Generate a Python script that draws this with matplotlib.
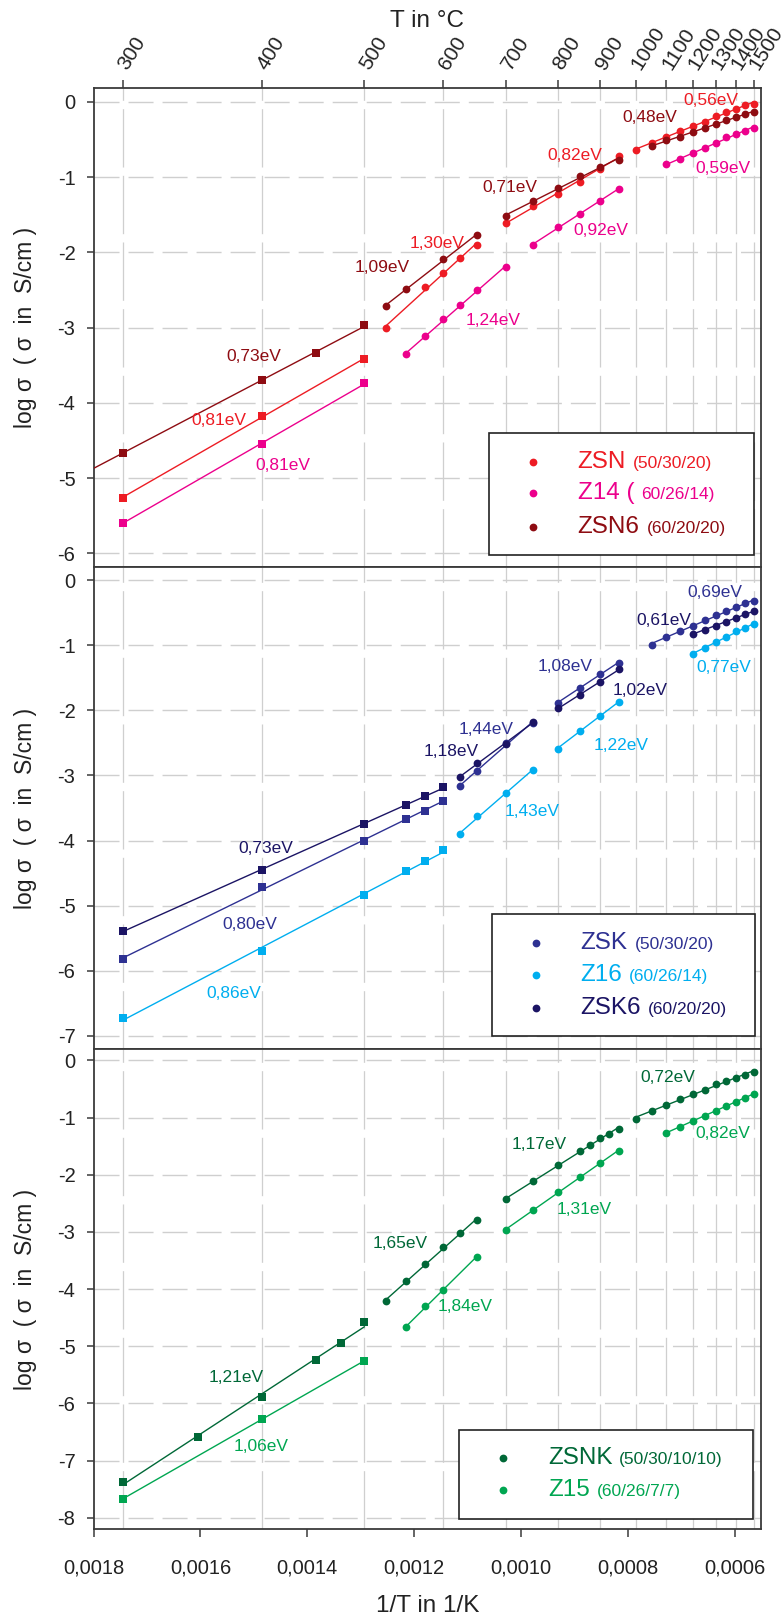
import numpy as np
import matplotlib
matplotlib.use("Agg")
import matplotlib.pyplot as plt
from matplotlib.patches import Rectangle

plt.rcParams['font.family'] = ['Liberation Sans', 'DejaVu Sans']
plt.rcParams['axes.unicode_minus'] = False
plt.rcParams['lines.scale_dashes'] = False

# colours of the glass series
c_zsn, c_z14, c_zsn6 = '#ed1c24', '#ec008c', '#8e0c12'
c_zsk, c_z16, c_zsk6 = '#2e3192', '#00aeef', '#1b1464'
c_zsnk, c_z15 = '#006837', '#00a651'

# ---- ZSN / Z14 / ZSN6 : temperature in deg C, log sigma ----
zsn_T_sq = [300, 400, 500]
zsn_sq = [-5.26, -4.17, -3.42]
zsn_T_a = [525, 575, 600, 625, 650]
zsn_a = [-3.00, -2.46, -2.27, -2.07, -1.90]
zsn_T_b = [700, 750, 800, 850, 900, 950]
zsn_b = [-1.61, -1.38, -1.22, -1.06, -0.89, -0.72]
zsn_T_c = [1000, 1050, 1100, 1150, 1200, 1250, 1300, 1350, 1400, 1450, 1500]
zsn_c = [-0.64, -0.55, -0.46, -0.38, -0.32, -0.26, -0.19, -0.13, -0.09, -0.04, -0.03]

z14_T_sq = [300, 400, 500]
z14_sq = [-5.59, -4.55, -3.74]
z14_T_a = [550, 575, 600, 625, 650, 700]
z14_a = [-3.35, -3.11, -2.89, -2.70, -2.50, -2.19]
z14_T_b = [750, 800, 850, 900, 950]
z14_b = [-1.90, -1.66, -1.49, -1.31, -1.16]
z14_T_c = [1100, 1150, 1200, 1250, 1300, 1350, 1400, 1450, 1500]
z14_c = [-0.83, -0.76, -0.68, -0.61, -0.55, -0.47, -0.42, -0.38, -0.34]

zsn6_T_sq = [300, 400, 450, 500]
zsn6_sq = [-4.66, -3.70, -3.33, -2.97]
zsn6_T_a = [525, 550, 600, 650]
zsn6_a = [-2.71, -2.48, -2.09, -1.77]
zsn6_T_b = [700, 750, 800, 850, 900, 950]
zsn6_b = [-1.52, -1.31, -1.14, -0.99, -0.87, -0.77]
zsn6_T_c = [1050, 1100, 1150, 1200, 1250, 1300, 1350, 1400, 1450, 1500]
zsn6_c = [-0.59, -0.51, -0.46, -0.40, -0.35, -0.29, -0.24, -0.20, -0.16, -0.13]

# ---- ZSK / Z16 / ZSK6 ----
zsk_T_sq = [300, 400, 500, 550, 575, 600]
zsk_sq = [-5.82, -4.72, -4.00, -3.67, -3.54, -3.39]
zsk_T_a = [625, 650, 700, 750]
zsk_a = [-3.16, -2.93, -2.50, -2.19]
zsk_T_b = [800, 850, 900, 950]
zsk_b = [-1.89, -1.65, -1.45, -1.27]
zsk_T_c = [1050, 1100, 1150, 1200, 1250, 1300, 1350, 1400, 1450, 1500]
zsk_c = [-0.99, -0.88, -0.78, -0.70, -0.62, -0.54, -0.48, -0.42, -0.36, -0.32]

z16_T_sq = [300, 400, 500, 550, 575, 600]
z16_sq = [-6.72, -5.70, -4.84, -4.47, -4.31, -4.15]
z16_T_a = [625, 650, 700, 750]
z16_a = [-3.90, -3.63, -3.27, -2.91]
z16_T_b = [800, 850, 900, 950]
z16_b = [-2.59, -2.32, -2.08, -1.88]
z16_T_c = [1200, 1250, 1300, 1350, 1400, 1450, 1500]
z16_c = [-1.13, -1.05, -0.95, -0.87, -0.79, -0.73, -0.68]

zsk6_T_sq = [300, 400, 500, 550, 575, 600]
zsk6_sq = [-5.39, -4.45, -3.75, -3.45, -3.32, -3.18]
zsk6_T_a = [625, 650, 700, 750]
zsk6_a = [-3.02, -2.81, -2.51, -2.18]
zsk6_T_b = [800, 850, 900, 950]
zsk6_b = [-1.97, -1.77, -1.57, -1.37]
zsk6_T_c = [1200, 1250, 1300, 1350, 1400, 1450, 1500]
zsk6_c = [-0.83, -0.76, -0.70, -0.64, -0.58, -0.52, -0.48]

# ---- ZSNK / Z15 ----
zsnk_T_sq = [300, 350, 400, 450, 475, 500]
zsnk_sq = [-7.38, -6.58, -5.88, -5.24, -4.95, -4.58]
zsnk_T_a = [525, 550, 575, 600, 625, 650]
zsnk_a = [-4.21, -3.86, -3.56, -3.26, -3.02, -2.80]
zsnk_T_b = [700, 750, 800, 850, 875, 900, 925, 950]
zsnk_b = [-2.43, -2.11, -1.83, -1.59, -1.48, -1.35, -1.29, -1.20]
zsnk_T_c = [1000, 1050, 1100, 1150, 1200, 1250, 1300, 1350, 1400, 1450, 1500]
zsnk_c = [-1.02, -0.89, -0.78, -0.68, -0.58, -0.51, -0.42, -0.36, -0.30, -0.25, -0.21]

z15_T_sq = [300, 400, 500]
z15_sq = [-7.67, -6.27, -5.26]
z15_T_a = [550, 575, 600, 650]
z15_a = [-4.67, -4.29, -4.01, -3.44]
z15_T_b = [700, 750, 800, 850, 900, 950]
z15_b = [-2.97, -2.61, -2.30, -2.04, -1.80, -1.59]
z15_T_c = [1100, 1150, 1200, 1250, 1300, 1350, 1400, 1450, 1500]
z15_c = [-1.27, -1.16, -1.06, -0.97, -0.88, -0.79, -0.72, -0.65, -0.59]

# activation energies: text, 1/T position, log sigma position
ea1 = [('0,56eV', 0.000645, 0.02, c_zsn), ('0,48eV', 0.000759, -0.20, c_zsn6),
       ('0,82eV', 0.000899, -0.71, c_zsn), ('0,59eV', 0.000622, -0.89, c_z14),
       ('0,71eV', 0.001021, -1.13, c_zsn6), ('0,92eV', 0.000851, -1.71, c_z14),
       ('1,30eV', 0.001158, -1.885, c_zsn), ('1,09eV', 0.001259, -2.20, c_zsn6),
       ('1,24eV', 0.001052, -2.90, c_z14), ('0,73eV', 0.001501, -3.385, c_zsn6),
       ('0,81eV', 0.001566, -4.236, c_zsn), ('0,81eV', 0.001445, -4.834, c_z14)]
ea2 = [('0,69eV', 0.000637, -0.195, c_zsk), ('0,61eV', 0.000733, -0.62, c_zsk6),
       ('0,77eV', 0.000621, -1.347, c_z16), ('1,08eV', 0.000918, -1.332, c_zsk),
       ('1,02eV', 0.000778, -1.696, c_zsk6), ('1,44eV', 0.001066, -2.295, c_zsk),
       ('1,22eV', 0.000813, -2.541, c_z16), ('1,18eV', 0.001131, -2.638, c_zsk6),
       ('1,43eV', 0.000979, -3.56, c_z16), ('0,73eV', 0.001478, -4.119, c_zsk6),
       ('0,80eV', 0.001507, -5.282, c_zsk), ('0,86eV', 0.001538, -6.349, c_z16)]
ea3 = [('0,72eV', 0.000726, -0.303, c_zsnk), ('0,82eV', 0.000623, -1.271, c_z15),
       ('1,17eV', 0.000967, -1.469, c_zsnk), ('1,31eV', 0.000882, -2.606, c_z15),
       ('1,65eV', 0.001227, -3.201, c_zsnk), ('1,84eV', 0.001105, -4.309, c_z15),
       ('1,21eV', 0.001533, -5.543, c_zsnk), ('1,06eV', 0.001486, -6.751, c_z15)]

top_T = [300, 400, 500, 600, 700, 800, 900, 1000, 1100, 1200, 1300, 1400, 1500]
bottom_ticks = [0.0018, 0.0016, 0.0014, 0.0012, 0.0010, 0.0008, 0.0006]
bottom_labels = ['0,0018', '0,0016', '0,0014', '0,0012', '0,0010', '0,0008', '0,0006']

XMIN, XMAX = 0.0018, 0.000551
SPINE = '#3a3a3a'
GRID = '#cfcfcf'
TXT = '#222222'


def inv_T(T):
    return 1.0 / (np.asarray(T, dtype=float) + 273.15)


def series(ax, T, logs, color, marker, to_edge=False):
    x = inv_T(T)
    k, d = np.polyfit(x, logs, 1)
    x0 = XMIN if to_edge else x.max()
    xs = np.array([x0, x.min()])
    ax.plot(xs, k * xs + d, color=color, lw=1.0, zorder=3)
    ms = 5.2 if marker == 's' else 5.6
    ax.plot(x, logs, marker, color=color, ms=ms, mew=0, ls='none', zorder=4)


def key(ax, box, mx, tx, rows):
    x0, y0, x1, y1 = box
    ax.add_patch(Rectangle((x0, y0), x1 - x0, y1 - y0, transform=ax.transAxes,
                           facecolor='white', edgecolor='#222222', lw=1.2, zorder=6))
    for name, comp, color, y in rows:
        ax.plot([mx], [y], 'o', color=color, ms=5.6, mew=0, transform=ax.transAxes,
                zorder=7, clip_on=False)
        t = ax.text(tx, y, name, color=color, fontsize=17.5, ha='left', va='center',
                    transform=ax.transAxes, zorder=7)
        ax.annotate(comp, xy=(1, 0), xycoords=t, xytext=(5, 1.5),
                    textcoords='offset points', color=color, fontsize=12.5,
                    ha='left', va='bottom', zorder=7)


def style(ax, ylim, yt):
    ax.set_xlim(XMIN, XMAX)
    ax.set_ylim(*ylim)
    ax.set_yticks(yt)
    ax.set_yticklabels([str(v) for v in yt])
    ax.set_xticks(inv_T(top_T), minor=True)
    ax.tick_params(axis='x', which='minor', length=0)
    ax.grid(axis='y', which='major', color=GRID, lw=1.0, linestyle=(0, (18, 6.5)), zorder=0)
    ax.grid(axis='x', which='minor', color=GRID, lw=0.9, linestyle=(0, (42, 6)), zorder=0)
    ax.set_axisbelow(True)
    ax.tick_params(axis='y', direction='out', length=5, width=1.1, color=SPINE,
                   labelsize=14.5, labelcolor=TXT, pad=8)
    for s in ax.spines.values():
        s.set_color(SPINE)
        s.set_linewidth(1.3)
    ax.set_ylabel('log σ  ( σ  in  S/cm )', fontsize=16.5, color=TXT)
    ax.yaxis.set_label_coords(-0.084, 0.5)


fig = plt.figure(figsize=(7.84, 16.21), dpi=100)
L, W = 0.1193, 0.8514
ax1 = fig.add_axes([L, 0.6502, W, 0.2957])
ax2 = fig.add_axes([L, 0.3529, W, 0.2973], sharex=ax1)
ax3 = fig.add_axes([L, 0.0566, W, 0.2963], sharex=ax1)

# first panel
style(ax1, (-6.18, 0.19), [0, -1, -2, -3, -4, -5, -6])
series(ax1, z14_T_sq, z14_sq, c_z14, 's')
series(ax1, z14_T_a, z14_a, c_z14, 'o')
series(ax1, z14_T_b, z14_b, c_z14, 'o')
series(ax1, z14_T_c, z14_c, c_z14, 'o')
series(ax1, zsn_T_sq, zsn_sq, c_zsn, 's')
series(ax1, zsn_T_a, zsn_a, c_zsn, 'o')
series(ax1, zsn_T_b, zsn_b, c_zsn, 'o')
series(ax1, zsn_T_c, zsn_c, c_zsn, 'o')
series(ax1, zsn6_T_sq, zsn6_sq, c_zsn6, 's', to_edge=True)
series(ax1, zsn6_T_a, zsn6_a, c_zsn6, 'o')
series(ax1, zsn6_T_b, zsn6_b, c_zsn6, 'o')
series(ax1, zsn6_T_c, zsn6_c, c_zsn6, 'o')
for s, x, y, c in ea1:
    ax1.text(x, y, s, color=c, fontsize=12.5, ha='center', va='center', zorder=5)
key(ax1, (0.5925, 0.025, 0.990, 0.2802), 0.6589, 0.7254,
    [('ZSN', '(50/30/20)', c_zsn, 0.2197),
     ('Z14 (', '60/26/14)', c_z14, 0.1538),
     ('ZSN6', '(60/20/20)', c_zsn6, 0.0841)])

# second panel
style(ax2, (-7.2, 0.2), [0, -1, -2, -3, -4, -5, -6, -7])
series(ax2, z16_T_sq, z16_sq, c_z16, 's')
series(ax2, z16_T_a, z16_a, c_z16, 'o')
series(ax2, z16_T_b, z16_b, c_z16, 'o')
series(ax2, z16_T_c, z16_c, c_z16, 'o')
series(ax2, zsk_T_sq, zsk_sq, c_zsk, 's')
series(ax2, zsk_T_a, zsk_a, c_zsk, 'o')
series(ax2, zsk_T_b, zsk_b, c_zsk, 'o')
series(ax2, zsk_T_c, zsk_c, c_zsk, 'o')
series(ax2, zsk6_T_sq, zsk6_sq, c_zsk6, 's')
series(ax2, zsk6_T_a, zsk6_a, c_zsk6, 'o')
series(ax2, zsk6_T_b, zsk6_b, c_zsk6, 'o')
series(ax2, zsk6_T_c, zsk6_c, c_zsk6, 'o')
for s, x, y, c in ea2:
    ax2.text(x, y, s, color=c, fontsize=12.5, ha='center', va='center', zorder=5)
key(ax2, (0.597, 0.027, 0.9906, 0.2802), 0.6633, 0.7298,
    [('ZSK', '(50/30/20)', c_zsk, 0.2194),
     ('Z16', '(60/26/14)', c_z16, 0.1536),
     ('ZSK6', '(60/20/20)', c_zsk6, 0.0845)])

# third panel
style(ax3, (-8.2, 0.2), [0, -1, -2, -3, -4, -5, -6, -7, -8])
series(ax3, z15_T_sq, z15_sq, c_z15, 's')
series(ax3, z15_T_a, z15_a, c_z15, 'o')
series(ax3, z15_T_b, z15_b, c_z15, 'o')
series(ax3, z15_T_c, z15_c, c_z15, 'o')
series(ax3, zsnk_T_sq, zsnk_sq, c_zsnk, 's')
series(ax3, zsnk_T_a, zsnk_a, c_zsnk, 'o')
series(ax3, zsnk_T_b, zsnk_b, c_zsnk, 'o')
series(ax3, zsnk_T_c, zsnk_c, c_zsnk, 'o')
for s, x, y, c in ea3:
    ax3.text(x, y, s, color=c, fontsize=12.5, ha='center', va='center', zorder=5)
key(ax3, (0.5476, 0.0208, 0.9885, 0.2067), 0.6139, 0.6805,
    [('ZSNK', '(50/30/10/10)', c_zsnk, 0.148),
     ('Z15', '(60/26/7/7)', c_z15, 0.082)])

# x axes: only the lowest panel carries 1/T labels
for ax in (ax1, ax2):
    ax.tick_params(axis='x', which='major', bottom=False, labelbottom=False)
ax3.set_xticks(bottom_ticks)
ax3.set_xticklabels(bottom_labels, fontsize=14.5, color=TXT)
ax3.tick_params(axis='x', which='major', direction='out', length=6, width=1.1,
                color=SPINE, pad=15)
ax3.set_xlabel('1/T in 1/K', fontsize=17.5, color=TXT)
ax3.xaxis.set_label_coords(0.5, -0.136)

# temperature scale on top
top = ax1.secondary_xaxis('top')
top.set_xticks(inv_T(top_T))
top.set_xticklabels([str(t) for t in top_T], fontsize=15, color=TXT)
top.tick_params(axis='x', direction='out', length=6, width=1.1, color=SPINE, pad=8)
for s in top.spines.values():
    s.set_visible(False)
for lab in top.get_xticklabels():
    lab.set_rotation(58)
    lab.set_rotation_mode('anchor')
    lab.set_ha('left')
    lab.set_va('center')
fig.text(0.545, 1 - 21 / 1621, 'T in °C', fontsize=17.5, ha='center', va='center',
         color=TXT)

fig.savefig('out.png', dpi=100)
